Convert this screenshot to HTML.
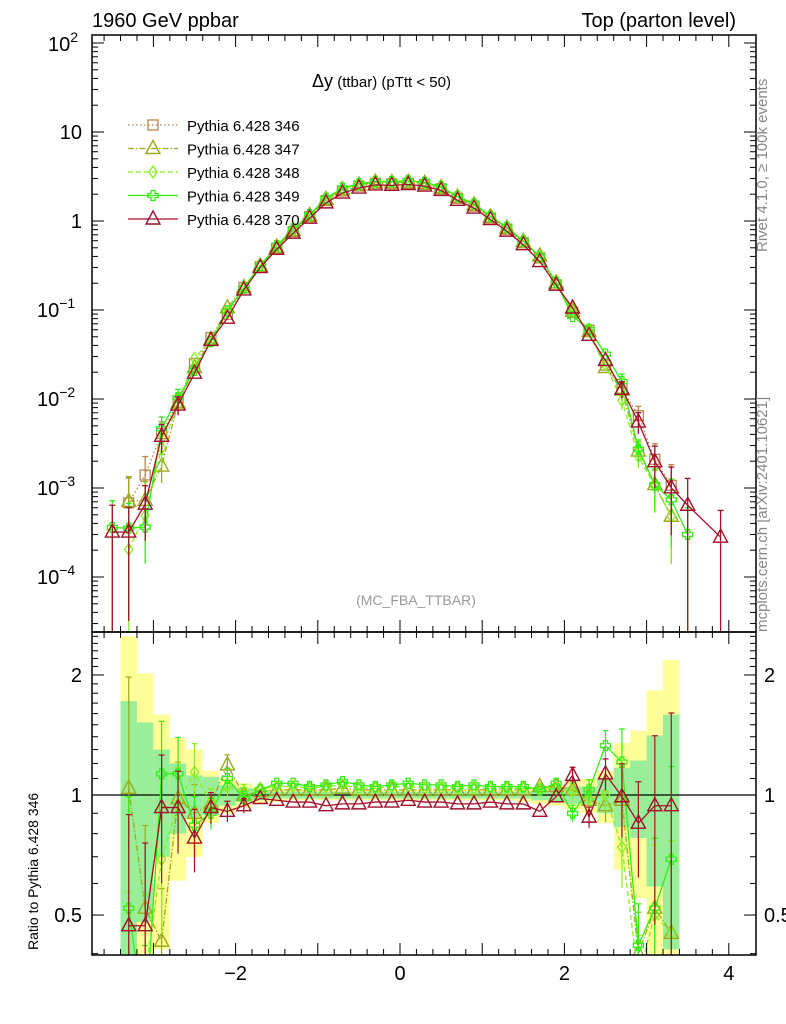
<!DOCTYPE html>
<html><head><meta charset="utf-8"><style>
html,body{margin:0;background:#fff;overflow:hidden;width:786px;height:1024px;}
svg{display:block;font-family:"Liberation Sans",sans-serif;}
</style></head><body>
<svg id="c" width="786" height="1024"></svg>
<script>
const bins=[-3.3,-3.1,-2.9,-2.7,-2.5,-2.3,-2.1,-1.9,-1.7,-1.5,-1.3,-1.1,-0.9,-0.7,-0.5,-0.3,-0.1,0.1,0.3,0.5,0.7,0.9,1.1,1.3,1.5,1.7,1.9,2.1,2.3,2.5,2.7,2.9,3.1,3.3];
const ref346=[6.8e-4,1.4e-3,4.1e-3,9.2e-3,0.025,0.049,0.089,0.179,0.306,0.495,0.76,1.12,1.70,2.17,2.47,2.65,2.62,2.65,2.57,2.3,1.8,1.47,1.08,0.81,0.57,0.385,0.192,0.094,0.059,0.024,0.013,0.0065,0.0021,0.00107];
const ratio347=[1.04,0.52,0.43,0.98,0.9,0.95,1.19,1.0,1.02,1.03,1.03,1.03,1.03,1.04,1.03,1.03,1.03,1.03,1.03,1.03,1.03,1.03,1.03,1.03,1.03,1.05,1.05,1.03,0.97,0.94,0.97,0.4,0.52,0.45];
const ratio348=[0.3,0.35,0.69,0.95,1.14,0.95,1.05,1.02,1.04,1.05,1.05,1.04,1.05,1.06,1.04,1.04,1.05,1.05,1.04,1.04,1.04,1.04,1.04,1.04,1.04,1.04,1.04,1.02,0.98,1.0,0.74,0.35,0.5,0.45];
const ratio349=[0.52,0.26,1.13,1.13,0.84,0.9,1.1,0.98,1.03,1.07,1.07,1.05,1.06,1.08,1.06,1.05,1.06,1.07,1.06,1.06,1.05,1.06,1.05,1.05,1.05,1.03,1.07,0.9,1.03,1.33,1.21,0.42,0.52,0.69];
const ratio370=[0.47,0.47,0.93,0.93,0.78,0.93,0.91,0.94,0.98,0.97,0.96,0.96,0.94,0.95,0.95,0.96,0.96,0.97,0.96,0.96,0.95,0.95,0.96,0.95,0.95,0.91,0.99,1.12,0.88,1.13,0.99,0.85,0.94,0.94];
const bandTot=[1.5,1.02,0.59,0.39,0.3,0.15,0.1,0.07,0.05,0.04,0.03,0.03,0.03,0.03,0.03,0.03,0.03,0.03,0.03,0.03,0.03,0.03,0.03,0.03,0.04,0.05,0.06,0.08,0.1,0.15,0.35,0.45,0.83,1.18];
const bandStat=[0.72,0.52,0.3,0.2,0.12,0.11,0.06,0.04,0.03,0.02,0.02,0.02,0.02,0.02,0.02,0.02,0.02,0.02,0.02,0.02,0.02,0.02,0.02,0.02,0.02,0.03,0.04,0.05,0.05,0.1,0.17,0.22,0.41,0.59];
const extraX370=[-3.5,3.5,3.9];
const extraY370=[3.2e-4,6.4e-4,2.8e-4];
const extraX349=[-3.5,3.5];
const extraY349=[3.6e-4,3.0e-4];

const NS="http://www.w3.org/2000/svg";
const svg=document.getElementById('c');
function mk(tag,attrs,parent){const e=document.createElementNS(NS,tag);for(const k in attrs)e.setAttribute(k,attrs[k]);(parent||svg).appendChild(e);return e;}
const L=92,R=756,T=35,MB=632,RB=955;
const sx=x=>400+x*82.2;
const sy=v=>221-89*Math.log10(v);
const ry=r=>795-398.7*Math.log10(r);
const clampR=y=>Math.min(Math.max(y,MB),RB);

const series=[
 {n:'346',c:'#b8864a',d:'1.5,2.5',m:'sq',r:bins.map(()=>1)},
 {n:'347',c:'#9aaa1a',d:'6,2,1.5,2',m:'tri',r:ratio347},
 {n:'348',c:'#88ee22',d:'5,3',m:'dia',r:ratio348},
 {n:'349',c:'#33ee11',d:'',m:'cross',r:ratio349},
 {n:'370',c:'#a0102a',d:'',m:'tri',r:ratio370}
];

const cp=mk('clipPath',{id:'rc'});mk('rect',{x:L,y:MB,width:R-L,height:RB-MB},cp);
const cp2=mk('clipPath',{id:'mc'});mk('rect',{x:L,y:T,width:R-L,height:MB-T},cp2);
const gb=mk('g',{'clip-path':'url(#rc)'});
bins.forEach((b,i)=>{
  const x0=sx(b-0.1),x1=sx(b+0.1);
  let e=bandTot[i];
  let r=mk('rect',{x:x0,y:ry(1+e),width:x1-x0,height:clampR(ry(Math.max(1-e,0.01)))-ry(1+e),fill:'#ffff99'},gb);
  
  e=bandStat[i];
  r=mk('rect',{x:x0,y:ry(1+e),width:x1-x0,height:clampR(ry(Math.max(1-e,0.01)))-ry(1+e),fill:'#99ee99'},gb);
  
});
mk('line',{x1:L,x2:R,y1:795,y2:795,stroke:'#000','stroke-width':1.2});

function marker(g,type,x,y,c){
  let e;
  if(type==='sq')e=mk('rect',{x:x-5,y:y-5,width:10,height:10,fill:'none',stroke:c,'stroke-width':1.3},g);
  else if(type==='tri')e=mk('polygon',{points:`${x},${y-8} ${x-7},${y+5} ${x+7},${y+5}`,fill:'none',stroke:c,'stroke-width':1.4},g);
  else if(type==='dia')e=mk('polygon',{points:`${x},${y-6} ${x-4},${y} ${x},${y+6} ${x+4},${y}`,fill:'none',stroke:c,'stroke-width':1.3},g);
  else e=mk('path',{d:`M${x-2},${y-5}h4v3h3v4h-3v3h-4v-3h-3v-4h3z`,fill:'none',stroke:c,'stroke-width':1.3},g);
  
}

series.forEach(s=>{
  const gm=mk('g',{'clip-path':'url(#mc)'});
  
  const gr=mk('g',{'clip-path':'url(#rc)'});
  
  let xs=bins.slice(),ys=bins.map((b,i)=>ref346[i]*s.r[i]),errs=bandTot.map(e=>e*0.6);
  if(s.n==='370'){extraX370.forEach((x,j)=>{xs.push(x);ys.push(extraY370[j]);errs.push(1);});}
  if(s.n==='349'){extraX349.forEach((x,j)=>{xs.push(x);ys.push(extraY349[j]);errs.push(1);});}
  const idx=xs.map((x,i)=>i).sort((a,b)=>xs[a]-xs[b]);
  let p='';idx.forEach((i,k)=>{p+=(k?'L':'M')+sx(xs[i])+','+sy(ys[i]);});
  mk('path',{d:p,fill:'none',stroke:s.c,'stroke-width':1.3,'stroke-dasharray':s.d},gm);
  idx.forEach(i=>{
    const x=sx(xs[i]),v=ys[i],e=errs[i];
    if(e>0.2){
      const y1=sy(v*(1+e)),y2=e>=1?MB+5:sy(v*(1-e));
      mk('line',{x1:x,x2:x,y1:y1,y2:y2,stroke:s.c,'stroke-width':1.3},gm);
      mk('line',{x1:x-3,x2:x+3,y1:y1,y2:y1,stroke:s.c,'stroke-width':1.3},gm);
    }
    marker(gm,s.m,x,sy(v),s.c);
  });
  if(s.n!=='346'){
    let q='';bins.forEach((b,i)=>{q+=(i?'L':'M')+sx(b)+','+ry(s.r[i]);});
    mk('path',{d:q,fill:'none',stroke:s.c,'stroke-width':1.3,'stroke-dasharray':s.d},gr);
    bins.forEach((b,i)=>{
      const x=sx(b),r=s.r[i],e=bandTot[i]*0.6;
      if(e>0.04){
        const y1=ry(r*(1+e)),y2=ry(Math.max(r*(1-e),0.05));
        mk('line',{x1:x,x2:x,y1:y1,y2:y2,stroke:s.c,'stroke-width':1.2},gr);
        mk('line',{x1:x-3,x2:x+3,y1:y1,y2:y1,stroke:s.c,'stroke-width':1.2},gr);
      }
      marker(gr,s.m,x,ry(r),s.c);
    });
  }
});

mk('rect',{x:L,y:T,width:R-L,height:MB-T,fill:'none',stroke:'#000','stroke-width':1.5});
mk('rect',{x:L,y:MB,width:R-L,height:RB-MB,fill:'none',stroke:'#000','stroke-width':1.5});
function txt(s,x,y,opt){const t=mk('text',Object.assign({x:x,y:y,'font-size':20,fill:'#000'},opt||{}));t.textContent=s;return t;}
for(let v=-3.8;v<=4.2;v+=0.2){
  const x=sx(v);if(x<L||x>R)continue;
  const maj=Math.abs(v-Math.round(v))<0.01;const len=maj?12:6;
  [T,MB].forEach(y=>mk('line',{x1:x,x2:x,y1:y,y2:y+len,stroke:'#000'}));
  [MB,RB].forEach(y=>mk('line',{x1:x,x2:x,y1:y,y2:y-len,stroke:'#000'}));
}
[-2,0,2,4].forEach(v=>{const t=txt(v<0?'\u2212'+(-v):''+v,sx(v),980,{'text-anchor':'middle'});});
for(let d=-5;d<=2;d++){for(let k=1;k<10;k++){
  const y=sy(k*Math.pow(10,d));if(y<T||y>MB)continue;
  const len=k===1?12:6;
  mk('line',{x1:L,x2:L+len,y1:y,y2:y,stroke:'#000'});mk('line',{x1:R,x2:R-len,y1:y,y2:y,stroke:'#000'});
}}
const ylab=[['10','2',44],['10','',132],['1','',221],['10','\u22121',310],['10','\u22122',399],['10','\u22123',488],['10','\u22124',577]];
ylab.forEach(l=>{
  const t=txt('',82,l[2]+7,{'text-anchor':l[1]?'start':'end'});
  
  if(l[1]){t.setAttribute('x',l[1].length>1?37:48);t.textContent=l[0];const ts=mk('tspan',{dy:-9,'font-size':14},t);ts.textContent=l[1];}
  else t.textContent=l[0];
});
[0.4,0.5,0.6,0.7,0.8,0.9,1,1.1,1.2,1.3,1.4,1.5,1.6,1.7,1.8,1.9,2,2.1,2.2,2.3,2.4,2.5].forEach(r=>{
  const y=ry(r);if(y<MB||y>RB)return;
  const len=(r===0.5||r===1||r===2)?12:6;
  mk('line',{x1:L,x2:L+len,y1:y,y2:y,stroke:'#000'});mk('line',{x1:R,x2:R-len,y1:y,y2:y,stroke:'#000'});
});
[['2',2],['1',1],['0.5',0.5]].forEach(l=>{txt(l[0],82,ry(l[1])+7,{'text-anchor':'end'});txt(l[0],764,ry(l[1])+7);});
txt('1960 GeV ppbar',92,27);
txt('Top (parton level)',736,27,{'text-anchor':'end'});
const pt=txt('',312,87,{'font-size':18});
pt.innerHTML='<tspan>\u0394y</tspan><tspan font-size="15"> (ttbar) (pTtt &lt; 50)</tspan>';
txt('(MC_FBA_TTBAR)',416,605,{'font-size':14,fill:'#999','text-anchor':'middle'});
const r1=txt('Rivet 4.1.0, \u2265 100k events',767,252,{'font-size':15,fill:'#888',transform:'rotate(-90 767 252)'});
const r2=txt('mcplots.cern.ch [arXiv:2401.10621]',767,632,{'font-size':15,fill:'#888',transform:'rotate(-90 767 632)'});
const yt=txt('Ratio to Pythia 6.428 346',38,950,{'font-size':14,transform:'rotate(-90 38 950)'});
series.forEach((s,i)=>{
  const y=125+i*23.5;
  const g=mk('g',{});
  mk('line',{x1:128,x2:178,y1:y,y2:y,stroke:s.c,'stroke-width':1.3,'stroke-dasharray':s.d},g);
  marker(g,s.m,153,y,s.c);
  const t=mk('text',{x:187,y:y+6,'font-size':15,fill:'#000'},g);t.textContent='Pythia 6.428 '+s.n;
});
</script>
</body></html>
